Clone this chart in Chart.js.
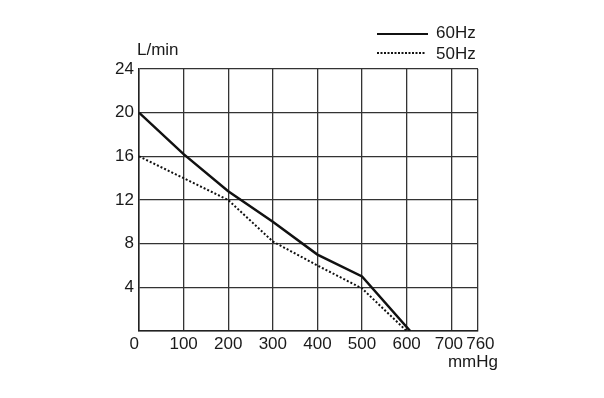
<!DOCTYPE html>
<html>
<head>
<meta charset="utf-8">
<script src="https://cdn.jsdelivr.net/npm/chart.js@4/dist/chart.umd.min.js"></script>
<style>
  html, body { margin: 0; padding: 0; background: #fff; }
  #wrap { width: 604px; height: 398px; }
</style>
</head>
<body>
<div id="wrap"><canvas id="pump"></canvas></div>
<script>
const xTicks = [0, 100, 200, 300, 400, 500, 600, 700, 760]
const yMax = 24
const yStep = 4

const pressure60 = [0, 100, 200, 300, 400, 500, 608]
const flow60 = [20, 16.2, 12.8, 10, 7, 5, 0]

const pressure50 = [0, 100, 200, 300, 400, 500, 600]
const flow50 = [16, 14, 12, 8.2, 6, 3.9, 0]

const font = "'Liberation Sans', Arial, sans-serif"
const ink = '#1a1a1a'

const toPoints = (xs, ys) => xs.map((x, i) => ({ x: x, y: ys[i] }))

// nudge the crowded labels apart a little, like the printed sheet does
const xLabel = v => {
  if (v === 0) return '0  '
  if (v === 700) return '700 '
  if (v === 760) return ' 760'
  return String(v)
}

// axis unit titles + the small two-line legend at top right
const labels = {
  id: 'labels',
  afterDraw(chart) {
    const ctx = chart.ctx
    ctx.save()
    ctx.fillStyle = ink
    ctx.font = '17px ' + font
    ctx.textBaseline = 'middle'
    ctx.textAlign = 'left'
    ctx.fillText('L/min', 137, 50)
    ctx.textAlign = 'right'
    ctx.textBaseline = 'alphabetic'
    ctx.fillText('mmHg', 498, 367)

    ctx.textAlign = 'left'
    ctx.textBaseline = 'middle'
    ctx.strokeStyle = '#111'
    ctx.lineWidth = 2.2
    ctx.beginPath()
    ctx.moveTo(377, 34)
    ctx.lineTo(428, 34)
    ctx.stroke()
    ctx.fillText('60Hz', 436, 33)

    ctx.lineWidth = 2
    ctx.setLineDash([2, 1.5])
    ctx.beginPath()
    ctx.moveTo(377, 53)
    ctx.lineTo(426, 53)
    ctx.stroke()
    ctx.setLineDash([])
    ctx.fillText('50Hz', 436, 54)
    ctx.restore()
  }
}

new Chart(
  document.getElementById('pump'),
  {
    type: 'scatter',
    data: {
      datasets: [
        {
          label: '60Hz',
          data: toPoints(pressure60, flow60),
          showLine: true,
          borderColor: '#111',
          borderWidth: 2.5,
          pointRadius: 0,
          tension: 0
        },
        {
          label: '50Hz',
          data: toPoints(pressure50, flow50),
          showLine: true,
          borderColor: '#111',
          borderWidth: 2,
          borderDash: [2, 2],
          pointRadius: 0,
          tension: 0
        }
      ]
    },
    options: {
      responsive: true,
      maintainAspectRatio: false,
      animation: false,
      layout: {
        padding: { left: 0, right: 126, top: 69, bottom: 0 }
      },
      plugins: {
        legend: { display: false },
        tooltip: { enabled: false }
      },
      scales: {
        x: {
          type: 'linear',
          min: 0,
          max: 760,
          afterBuildTicks: scale => {
            scale.ticks = xTicks.map(v => ({ value: v }))
          },
          afterFit: scale => { scale.height = 67 },
          border: { color: '#222', width: 1.5 },
          grid: { color: '#333', lineWidth: 1.3, drawTicks: false },
          ticks: {
            color: ink,
            font: { family: font, size: 17 },
            padding: 3,
            maxRotation: 0,
            autoSkip: false,
            callback: v => xLabel(v)
          }
        },
        y: {
          min: 0,
          max: yMax,
          afterFit: scale => { scale.width = 139 },
          border: { color: '#222', width: 1.5 },
          grid: { color: '#333', lineWidth: 1.3, drawTicks: false },
          ticks: {
            stepSize: yStep,
            color: ink,
            font: { family: font, size: 17 },
            padding: 5,
            callback: v => (v === 0 ? '' : v)
          }
        }
      }
    },
    plugins: [labels]
  }
)
</script>
</body>
</html>
